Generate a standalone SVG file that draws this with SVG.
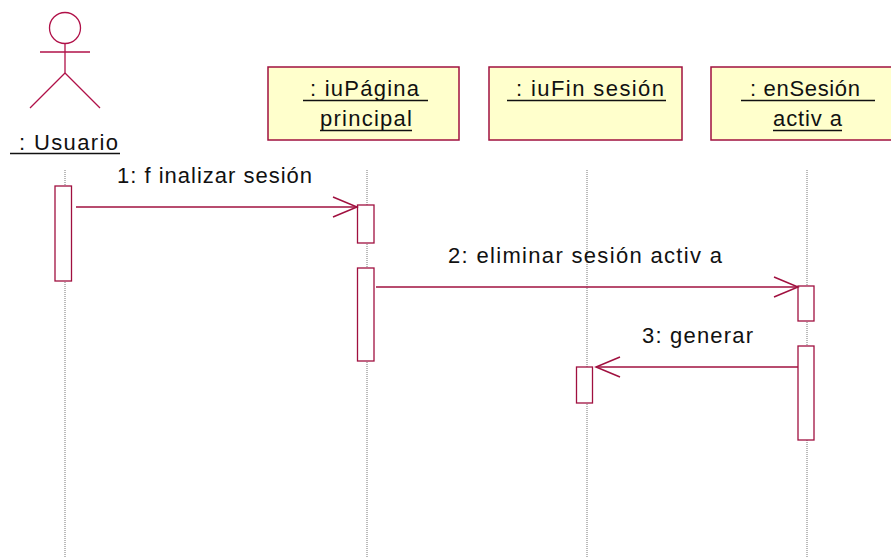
<svg xmlns="http://www.w3.org/2000/svg" width="891" height="557" viewBox="0 0 891 557">
<defs>
<style>
.lbl{font-family:"Liberation Sans",Arial,sans-serif;font-size:22px;fill:#111}
.obj{fill:#FFFFCC;stroke:#A0103F;stroke-width:1.5}
.act{fill:#fff;stroke:#A0103F;stroke-width:1.3}
.life{stroke:#777;stroke-width:1;stroke-dasharray:1,1}
.msg{stroke:#A0103F;stroke-width:1.3;fill:none}
.ul{stroke:#111;stroke-width:1.4}
.actor{stroke:#B01048;stroke-width:1.3;fill:none}
</style>
<marker id="open" markerWidth="28" markerHeight="24" refX="25" refY="11" orient="auto" markerUnits="userSpaceOnUse">
<path d="M1,1 L25,11 L1,21" fill="none" stroke="#A0103F" stroke-width="1.5"/>
</marker>
</defs>
<rect width="891" height="557" fill="#fff"/>
<g id="lifelines">
<line class="life" x1="65" y1="170" x2="65" y2="557"/>
<line class="life" x1="367" y1="170" x2="367" y2="557"/>
<line class="life" x1="587" y1="170" x2="587" y2="557"/>
<line class="life" x1="807" y1="170" x2="807" y2="557"/>
</g>
<g id="usuario">
<circle class="actor" cx="65" cy="28" r="15.5"/>
<line class="actor" x1="65" y1="43.5" x2="65" y2="73"/>
<line class="actor" x1="40" y1="52" x2="90" y2="52"/>
<line class="actor" x1="65" y1="73" x2="30" y2="108"/>
<line class="actor" x1="65" y1="73" x2="100" y2="108"/>
<text class="lbl" x="19" y="150" textLength="99" lengthAdjust="spacing">: Usuario</text>
<line class="ul" x1="10" y1="153.5" x2="120" y2="153.5"/>
<rect class="act" x="55" y="186" width="16.5" height="95"/>
</g>
<g id="iuPagina">
<rect class="obj" x="268" y="67" width="191" height="73"/>
<text class="lbl" x="310" y="96" textLength="109" lengthAdjust="spacing">: iuPágina</text>
<line class="ul" x1="303" y1="100.5" x2="428" y2="100.5"/>
<text class="lbl" x="320" y="126" textLength="92" lengthAdjust="spacing">principal</text>
<line class="ul" x1="320" y1="130.5" x2="412" y2="130.5"/>
<rect class="act" x="357.5" y="205" width="16.5" height="38"/>
<rect class="act" x="357.5" y="268" width="16.5" height="93"/>
</g>
<g id="iuFin">
<rect class="obj" x="489" y="67" width="193" height="73"/>
<text class="lbl" x="516" y="96" textLength="148" lengthAdjust="spacing">: iuFin sesión</text>
<line class="ul" x1="507" y1="100.5" x2="666" y2="100.5"/>
<rect class="act" x="576.5" y="367" width="16" height="36"/>
</g>
<g id="enSesion">
<rect class="obj" x="711" y="67" width="190" height="73"/>
<text class="lbl" x="750" y="96" textLength="110" lengthAdjust="spacing">: enSesión</text>
<line class="ul" x1="741" y1="100.5" x2="875" y2="100.5"/>
<text class="lbl" x="773" y="126" textLength="69" lengthAdjust="spacing">activ a</text>
<line class="ul" x1="773" y1="130.5" x2="842" y2="130.5"/>
<rect class="act" x="798" y="286" width="16" height="35"/>
<rect class="act" x="798" y="346" width="16" height="94"/>
</g>
<g id="connectors">
<line class="msg" x1="76" y1="207" x2="357" y2="207" marker-end="url(#open)"/>
<text class="lbl" x="117" y="183" textLength="195" lengthAdjust="spacing">1: f inalizar sesión</text>
<line class="msg" x1="376" y1="287" x2="798" y2="287" marker-end="url(#open)"/>
<text class="lbl" x="448" y="263" textLength="274" lengthAdjust="spacing">2: eliminar sesión activ a</text>
<line class="msg" x1="798" y1="367" x2="596" y2="367" marker-end="url(#open)"/>
<text class="lbl" x="642" y="343" textLength="111" lengthAdjust="spacing">3: generar</text>
</g>
</svg>
